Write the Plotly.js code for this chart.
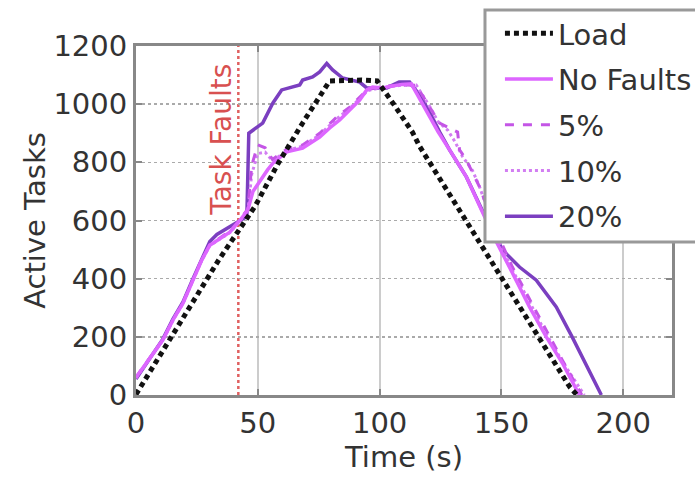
<!DOCTYPE html>
<html>
<head>
<meta charset="utf-8">
<script src="https://cdn.plot.ly/plotly-3.0.1.min.js"></script>
<style>html,body{margin:0;padding:0;background:#fff;}#chart{width:695px;height:477px;}</style>
</head>
<body>
<div id="chart"></div>
<script>
// ---- data ----
const seriesNames = ["Load", "No Faults", "5%", "10%", "20%"];

const loadT = [0, 10.5, 13.9, 20.8, 27.5, 34, 48.8, 58.6, 68.6, 75.8, 79.5, 92.6, 99, 106, 113.5, 116.4, 178, 181];
const loadV = [2, 145, 190, 283, 372, 465, 648, 800, 938, 1028, 1080, 1083, 1080, 997, 903, 855, 28, 0];

const noFaultsT = [0, 7, 11, 15.2, 19.3, 23.4, 27, 30.3, 33.2, 38.5, 42.6, 45.9, 48, 52, 54, 56.2, 61.9, 68.4, 72.5, 75.4, 79.5, 83.6, 87.7, 91.8, 94.7, 97.1, 101.2, 105, 109, 113, 115, 119, 124, 128.7, 135.6, 141.8, 148, 154.5, 161.5, 168.4, 175, 182];
const noFaultsV = [60, 144, 189, 258, 316, 395, 464, 515, 530, 560, 600, 636, 700, 750, 774, 797, 836, 849, 870, 887, 918, 946, 980, 1014, 1049, 1059, 1056, 1062, 1068, 1070, 1040, 985, 905, 843, 750, 636, 525, 420, 303, 200, 110, 0];

const fault5T = [0, 7, 11, 15.2, 19.3, 23.4, 27, 30.3, 33.2, 38.5, 42.6, 45.9, 47.5, 50, 53, 56, 61.9, 68.4, 75.4, 82.4, 87.7, 91.8, 95, 101, 108, 115, 119, 124.6, 132, 132.8, 135.6, 141, 148, 154.5, 161.5, 168.4, 175, 183];
const fault5V = [62, 146, 190, 260, 318, 397, 466, 517, 533, 563, 602, 640, 790, 860, 850, 810, 845, 860, 900, 956, 990, 1022, 1050, 1060, 1066, 1065, 1010, 935, 904, 843, 808, 716, 560, 440, 330, 220, 120, 0];

const fault10T = [0, 7, 11, 15.2, 19.3, 23.4, 27, 30.3, 33.2, 38.5, 42.6, 45.9, 47.5, 50, 53, 56, 61.9, 68.4, 75.4, 82.4, 87.7, 91.8, 95, 101, 108, 115, 120, 124, 128, 131, 134, 138, 141, 148, 154.5, 161.5, 168.4, 175, 184];
const fault10V = [58, 142, 188, 257, 315, 394, 463, 514, 529, 558, 598, 632, 760, 830, 835, 805, 840, 856, 895, 950, 985, 1018, 1046, 1058, 1064, 1066, 1000, 940, 910, 870, 820, 774, 716, 550, 430, 320, 210, 115, 0];

const fault20T = [0, 7, 11, 15.2, 19.3, 23.4, 27, 30.3, 33.2, 38.5, 42.6, 45.5, 46.3, 52, 56.2, 59.8, 67.2, 68.4, 72.5, 75.4, 78.3, 80.7, 84.8, 91.8, 94.7, 102.9, 108, 112.3, 116.4, 120.5, 124.6, 128.7, 135.6, 141.8, 150.4, 157.4, 164.3, 172.5, 179, 186, 191];
const fault20V = [55, 140, 192, 262, 320, 400, 468, 528, 552, 578, 600, 614, 900, 935, 1004, 1049, 1066, 1083, 1094, 1111, 1140, 1118, 1090, 1076, 1056, 1056, 1076, 1076, 1032, 973, 905, 843, 750, 640, 499, 440, 395, 303, 200, 86, 0];

const faultTime = 42;
const faultLabel = "Task Faults";
const xTicks = [0, 50, 100, 150, 200];
const yTicks = [0, 200, 400, 600, 800, 1000, 1200];

// ---- styles ----
const FONT = "DejaVu Sans";
const traces = [
  {x: fault20T, y: fault20V, name: seriesNames[4], line: {color: "#7b3fc0", width: 3.5}, legendrank: 5},
  {x: fault10T, y: fault10V, name: seriesNames[3], line: {color: "#d27ef2", width: 3, dash: "dot"}, legendrank: 4},
  {x: fault5T, y: fault5V, name: seriesNames[2], line: {color: "#c455e6", width: 3, dash: "dash"}, legendrank: 3},
  {x: noFaultsT, y: noFaultsV, name: seriesNames[1], line: {color: "#dd66ff", width: 3.5}, legendrank: 2},
  {x: loadT, y: loadV, name: seriesNames[0], line: {color: "#111", width: 5, dash: "5px,4px"}, legendrank: 1}
].map((t, i) => Object.assign({type: "scatter", mode: "lines", legendgroup: "g" + i}, t));

const layout = {
  width: 695, height: 477,
  margin: {l: 136, r: 23, t: 46, b: 82, autoexpand: false},
  paper_bgcolor: "#fff", plot_bgcolor: "#fff",
  font: {family: FONT, size: 29, color: "#333"},
  showlegend: true,
  legend: {
    x: 0.679, y: 1.1089, xanchor: "left", yanchor: "top",
    bgcolor: "rgba(0,0,0,0)", borderwidth: 0,
    font: {family: FONT, size: 29, color: "#333"},
    itemwidth: 48, tracegroupgap: 5, traceorder: "grouped"
  },
  xaxis: {
    range: [0, 220], tickvals: xTicks, ticks: "inside", ticklen: 6, tickwidth: 2, tickcolor: "#888",
    showline: true, linecolor: "#888", linewidth: 3, mirror: "ticks",
    showgrid: true, gridcolor: "#cccccc", gridwidth: 2, zeroline: false,
    title: {text: "Time (s)", font: {family: FONT, size: 29, color: "#333"}, standoff: 6},
    tickfont: {family: FONT, size: 29, color: "#333"}
  },
  yaxis: {
    range: [0, 1200], tickvals: yTicks, ticks: "inside", ticklen: 6, tickwidth: 2, tickcolor: "#888",
    showline: true, linecolor: "#888", linewidth: 3, mirror: "ticks",
    showgrid: true, gridcolor: "#aaa", gridwidth: 1.5, griddash: "dot", zeroline: false,
    title: {text: "Active Tasks", font: {family: FONT, size: 29, color: "#333"}, standoff: 0},
    tickfont: {family: FONT, size: 29, color: "#333"}
  },
  shapes: [
    {
      type: "line", xref: "x", yref: "paper", x0: faultTime, x1: faultTime, y0: 0, y1: 1,
      line: {color: "#e06060", width: 2.5, dash: "dot"}, layer: "below"
    },
    {
      type: "rect", xref: "paper", yref: "paper", x0: 0.6511, x1: 1.07, y0: 0.4384, y1: 1.1032,
      fillcolor: "#fff", line: {color: "#999", width: 3}, layer: "above"
    }
  ],
  annotations: [{
    x: faultTime, y: 877, xref: "x", yref: "y", text: faultLabel, showarrow: false,
    textangle: -90, xanchor: "right", yanchor: "middle", xshift: 2,
    font: {family: FONT, size: 28, color: "#d85050"}
  }]
};

Plotly.newPlot("chart", traces, layout, {displayModeBar: false, staticPlot: true});
</script>
</body>
</html>
